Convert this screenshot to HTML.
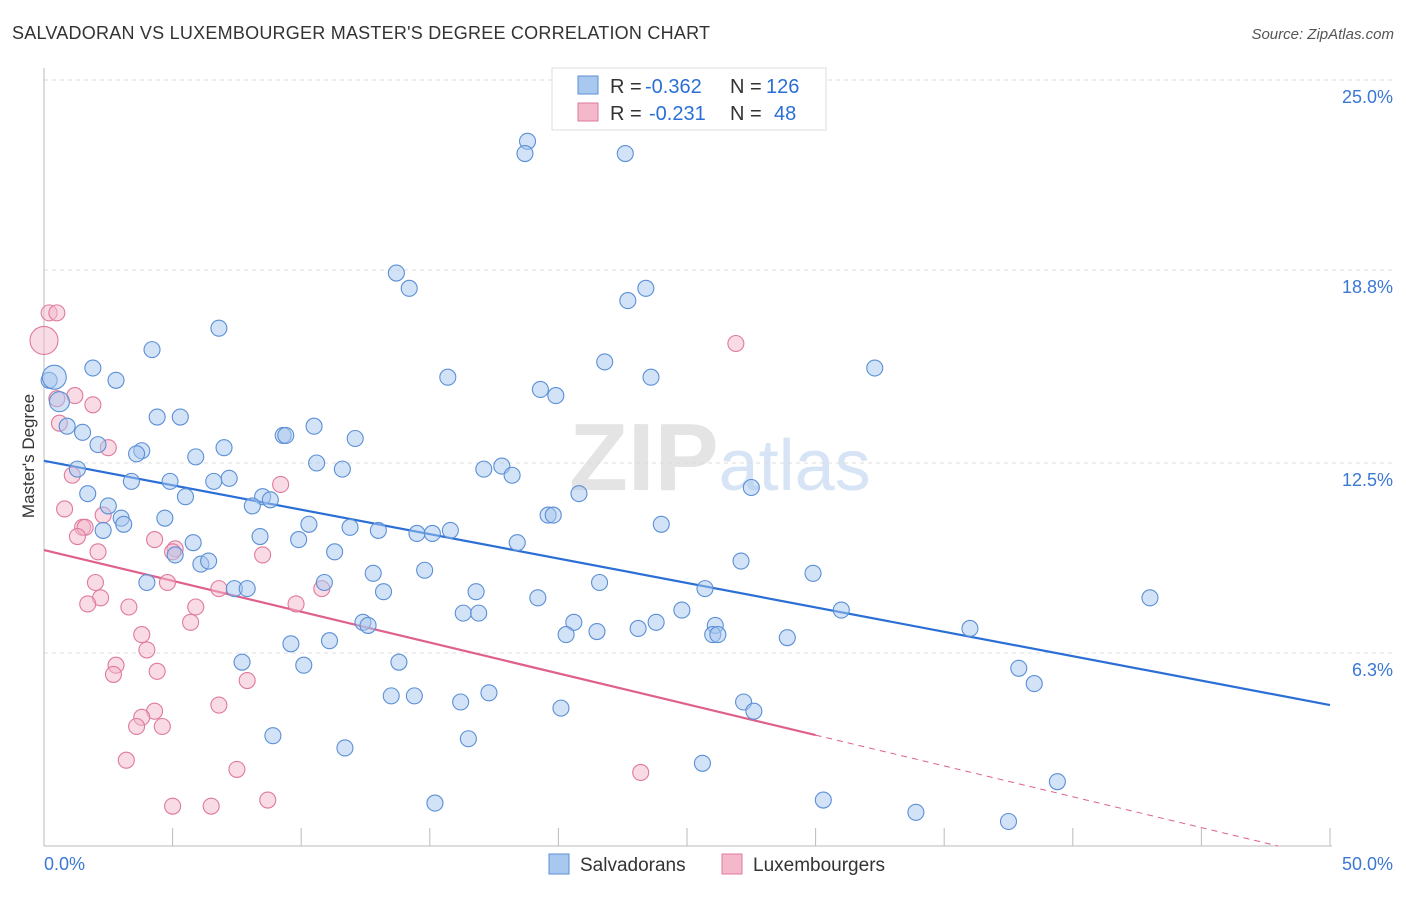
<!DOCTYPE html>
<html><head><meta charset="utf-8">
<style>
body{margin:0;background:#fff;font-family:"Liberation Sans",sans-serif;}
svg text{font-family:"Liberation Sans",sans-serif;}
</style></head>
<body>
<svg id="chart" width="1406" height="892" viewBox="0 0 1406 892" xmlns="http://www.w3.org/2000/svg">
<text x="12" y="39" font-size="18" fill="#333" textLength="698">SALVADORAN VS LUXEMBOURGER MASTER'S DEGREE CORRELATION CHART</text>
<text x="1394" y="39" font-size="15" fill="#555" text-anchor="end" font-style="italic">Source: ZipAtlas.com</text>
<text x="720" y="490" font-size="96" fill="#e4e4e4" text-anchor="middle" font-family="Liberation Serif"><tspan font-weight="bold">ZIP</tspan><tspan fill="#d6e4f5" font-family="Liberation Sans" font-size="72">atlas</tspan></text>
<text transform="translate(34,456) rotate(-90)" font-size="17" fill="#333" text-anchor="middle">Master's Degree</text>
<g id="grid"></g><g id="axes"></g><g id="lines"></g><g id="points"></g>
<g>
<rect x="552" y="68" width="274" height="62" fill="#fff" stroke="#ddd"/>
<rect x="578" y="76" width="20" height="18" fill="#a8c8f0" stroke="#5b8fd6"/>
<text x="610" y="93" font-size="20" fill="#333">R =</text>
<text x="645" y="93" font-size="20" fill="#2b6fd6">-0.362</text>
<text x="730" y="93" font-size="20" fill="#333">N =</text>
<text x="766" y="93" font-size="20" fill="#2b6fd6">126</text>
<rect x="578" y="103" width="20" height="18" fill="#f4b8cb" stroke="#e07a9c"/>
<text x="610" y="120" font-size="20" fill="#333">R =</text>
<text x="649" y="120" font-size="20" fill="#2b6fd6">-0.231</text>
<text x="730" y="120" font-size="20" fill="#333">N =</text>
<text x="774" y="120" font-size="20" fill="#2b6fd6">48</text>
</g>
<g>
<rect x="549" y="854" width="20" height="20" fill="#a8c8f0" stroke="#5b8fd6"/>
<text x="580" y="871" font-size="19" fill="#333">Salvadorans</text>
<rect x="722" y="854" width="20" height="20" fill="#f4b8cb" stroke="#e07a9c"/>
<text x="753" y="871" font-size="19" fill="#333">Luxembourgers</text>
</g>
</svg>
<script>
const yTicks=[6.3,12.5,18.8,25.0];
const yTickLabels=["6.3%","12.5%","18.8%","25.0%"];
const xTicks=[0,5,10,15,20,25,30,35,40,45,50];
const blueX=[18.8,18.7,22.6,13.7,14.2,22.7,23.4,6.8,4.2,21.8,32.3,1.9,2.8,15.7,23.6,19.3,19.9,4.4,5.3,10.5,0.9,1.5,9.3,9.4,12.1,2.1,7.0,3.8,3.6,5.9,10.6,17.8,1.3,11.6,17.1,18.2,7.2,4.9,6.6,3.4,27.5,1.7,5.5,20.8,8.5,8.8,2.5,8.1,19.6,19.8,3.0,4.7,24.0,10.3,11.9,13.0,2.3,3.1,15.8,14.5,15.1,8.4,9.9,18.4,5.8,11.3,27.1,5.1,6.1,6.4,14.8,29.9,12.8,21.6,10.9,4.0,7.4,7.9,13.2,16.8,25.7,19.2,43.0,16.3,16.9,24.8,31.0,12.4,12.6,20.6,23.8,23.1,26.1,36.0,26.0,26.2,20.3,21.5,28.9,11.1,9.6,7.7,10.1,13.8,37.9,38.5,17.3,13.5,14.4,16.2,27.2,20.1,27.6,8.9,16.5,11.7,25.6,39.4,15.2,30.3,33.9,37.5,0.2,0.4,0.6];
const blueY=[23.0,22.6,22.6,18.7,18.2,17.8,18.2,16.9,16.2,15.8,15.6,15.6,15.2,15.3,15.3,14.9,14.7,14.0,14.0,13.7,13.7,13.5,13.4,13.4,13.3,13.1,13.0,12.9,12.8,12.7,12.5,12.4,12.3,12.3,12.3,12.1,12.0,11.9,11.9,11.9,11.7,11.5,11.4,11.5,11.4,11.3,11.1,11.1,10.8,10.8,10.7,10.7,10.5,10.5,10.4,10.3,10.3,10.5,10.3,10.2,10.2,10.1,10.0,9.9,9.9,9.6,9.3,9.5,9.2,9.3,9.0,8.9,8.9,8.6,8.6,8.6,8.4,8.4,8.3,8.3,8.4,8.1,8.1,7.6,7.6,7.7,7.7,7.3,7.2,7.3,7.3,7.1,7.2,7.1,6.9,6.9,6.9,7.0,6.8,6.7,6.6,6.0,5.9,6.0,5.8,5.3,5.0,4.9,4.9,4.7,4.7,4.5,4.4,3.6,3.5,3.2,2.7,2.1,1.4,1.5,1.1,0.8,15.2,15.3,14.5];
const blueR=Array(123).fill(8).concat([12,10,10]);
const pinkX=[0.2,0.5,0.0,0.5,1.2,1.9,0.6,2.5,1.1,9.2,0.8,2.3,1.5,1.6,1.3,4.3,5.1,2.1,8.5,5.0,2.0,4.8,6.8,10.8,2.2,1.7,3.3,5.9,9.8,5.7,3.8,4.0,2.8,2.7,4.4,7.9,6.8,4.3,3.8,3.6,4.6,3.2,7.5,23.2,8.7,5.0,6.5,26.9];
const pinkY=[17.4,17.4,16.5,14.6,14.7,14.4,13.8,13.0,12.1,11.8,11.0,10.8,10.4,10.4,10.1,10.0,9.7,9.6,9.5,9.6,8.6,8.6,8.4,8.4,8.1,7.9,7.8,7.8,7.9,7.3,6.9,6.4,5.9,5.6,5.7,5.4,4.6,4.4,4.2,3.9,3.9,2.8,2.5,2.4,1.5,1.3,1.3,16.4];
const pinkR=[8,8,14].concat(Array(45).fill(8));
const blueTrend=[12.57,4.6];
const pinkTrend=[9.66,3.62];
const NS="http://www.w3.org/2000/svg";
const X0=44,X1=1330,YB=846,YT=80;
const sx=v=>X0+(X1-X0)*v/50;
const sy=v=>YB-(YB-YT)*v/25;
function mk(tag,attrs,parent){const e=document.createElementNS(NS,tag);for(const k in attrs)e.setAttribute(k,attrs[k]);parent.appendChild(e);return e;}
const grid=document.getElementById('grid'),axes=document.getElementById('axes'),lines=document.getElementById('lines'),pts=document.getElementById('points');
yTicks.forEach((t,i)=>{
 const l=mk('line',{x1:X0,x2:1392,y1:sy(t),y2:sy(t),stroke:'#ddd','stroke-dasharray':'4,4'},grid);
 
 
 const tx=mk('text',{x:1393,y:sy(t)+23,'font-size':18,fill:'#3a78d4','text-anchor':'end'},axes);
 tx.textContent=yTickLabels[i];
 
 
});
const topGrid=mk('line',{x1:X0,x2:1392,y1:YT,y2:YT,stroke:'#ddd','stroke-dasharray':'4,4'},grid);


const ya=mk('line',{x1:X0,x2:X0,y1:68,y2:YB,stroke:'#bbb'},axes);


const xa=mk('line',{x1:X0,x2:X1+2,y1:YB,y2:YB,stroke:'#bbb'},axes);


xTicks.forEach(t=>{
 const l=mk('line',{x1:sx(t),x2:sx(t),y1:YB,y2:YB-18,stroke:'#bbb'},axes);
 
 
});
const xl0=mk('text',{x:44,y:870,'font-size':18,fill:'#3a78d4'},axes);xl0.textContent='0.0%';


const xl1=mk('text',{x:1393,y:870,'font-size':18,fill:'#3a78d4','text-anchor':'end'},axes);xl1.textContent='50.0%';


function dots(xs,ys,rs,fill,stroke,name){xs.forEach((x,i)=>{
 const c=mk('circle',{cx:sx(x),cy:sy(ys[i]),r:rs[i],fill:fill,'fill-opacity':0.5,stroke:stroke,'stroke-width':1.1},pts);
 
 
});}
dots(pinkX,pinkY,pinkR,'#f4b8cb','#e07a9c','luxembourger-point');
dots(blueX,blueY,blueR,'#a8c8f0','#5b8fd6','salvadoran-point');
const bl=mk('line',{x1:sx(0),y1:sy(blueTrend[0]),x2:sx(50),y2:sy(blueTrend[1]),stroke:'#2b6fd6','stroke-width':2.2},lines);


const slope=(pinkTrend[1]-pinkTrend[0])/30;
const pl=mk('line',{x1:sx(0),y1:sy(pinkTrend[0]),x2:sx(30),y2:sy(pinkTrend[1]),stroke:'#e0608c','stroke-width':2.2},lines);


const xEnd=-pinkTrend[0]/slope;
const pd=mk('line',{x1:sx(30),y1:sy(pinkTrend[1]),x2:sx(xEnd),y2:sy(0),stroke:'#e0608c','stroke-width':1,'stroke-dasharray':'6,5'},lines);


</script>
</body></html>
